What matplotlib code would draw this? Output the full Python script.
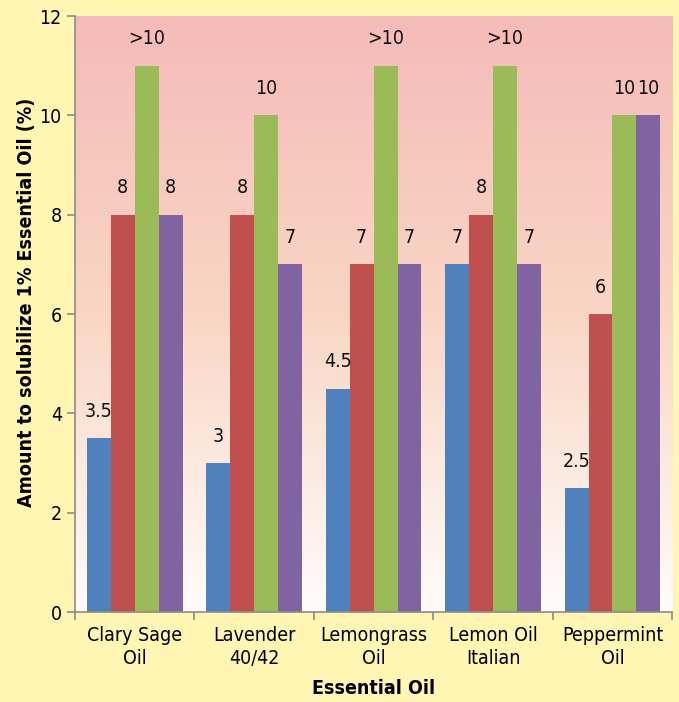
import numpy as np
import matplotlib
matplotlib.use("Agg")
import matplotlib.pyplot as plt
from matplotlib.colors import LinearSegmentedColormap

plt.rcParams['font.family'] = ['DejaVu Sans']
plt.rcParams['font.stretch'] = 'condensed'

# data
oils = ['Clary Sage\nOil', 'Lavender\n40/42', 'Lemongrass\nOil', 'Lemon Oil\nItalian', 'Peppermint\nOil']
series1 = [3.5, 3, 4.5, 7, 2.5]
series2 = [8, 8, 7, 8, 6]
series3 = [11, 10, 11, 11, 10]
series4 = [8, 7, 7, 7, 10]
labels1 = ['3.5', '3', '4.5', '7', '2.5']
labels2 = ['8', '8', '7', '8', '6']
labels3 = ['>10', '10', '>10', '>10', '10']
labels4 = ['8', '7', '7', '7', '10']

colors = ['#4F81BD', '#C0504D', '#9BBB59', '#8064A2']

fig = plt.figure(figsize=(6.79, 7.02), dpi=100)
fig.patch.set_facecolor('#FFF6B4')
ax = fig.add_axes([0.1105, 0.128, 0.8795, 0.849])

# gradient background for the plot area
grad = LinearSegmentedColormap.from_list('bg', ['#FFFCFA', '#F9D6C4', '#F5BBB9'])
ax.imshow(np.linspace(0, 1, 256).reshape(-1, 1), cmap=grad, origin='lower',
          extent=[-0.5, len(oils) - 0.5, 0, 12], aspect='auto', zorder=0)

x = np.arange(len(oils))
w = 0.2
all_series = [series1, series2, series3, series4]
all_labels = [labels1, labels2, labels3, labels4]
for i, (vals, labs) in enumerate(zip(all_series, all_labels)):
    pos = x + (i - 1.5) * w
    bars = ax.bar(pos, vals, width=w, color=colors[i], zorder=2)
    for b, lab in zip(bars, labs):
        ax.text(b.get_x() + b.get_width() / 2, b.get_height() + 0.35, lab,
                ha='center', va='bottom', fontsize=14, color='#111111')

ax.set_xlim(-0.5, len(oils) - 0.5)
ax.set_ylim(0, 12)
ax.set_yticks(range(0, 13, 2))
ax.set_xticks(x)
ax.set_xticklabels(oils, fontsize=14, linespacing=1.25)
ax.set_xticks(np.arange(-0.5, len(oils)), minor=True)
ax.tick_params(axis='x', which='major', length=0, pad=10)
ax.tick_params(axis='x', which='minor', length=6, color='#8C8C8C', width=1.2)
ax.tick_params(axis='y', labelsize=14, length=6, color='#8C8C8C', width=1.2)

for s in ['top', 'right']:
    ax.spines[s].set_visible(False)
for s in ['left', 'bottom']:
    ax.spines[s].set_color('#8C8C8C')
    ax.spines[s].set_linewidth(1.2)

ax.set_xlabel('Essential Oil', fontsize=14, fontweight='bold', labelpad=8)
ax.set_ylabel('Amount to solubilize 1% Essential Oil (%)', fontsize=14,
              fontweight='bold')
ax.yaxis.set_label_coords(-0.066, 0.52)

fig.savefig('out.png', dpi=100, facecolor=fig.get_facecolor())
